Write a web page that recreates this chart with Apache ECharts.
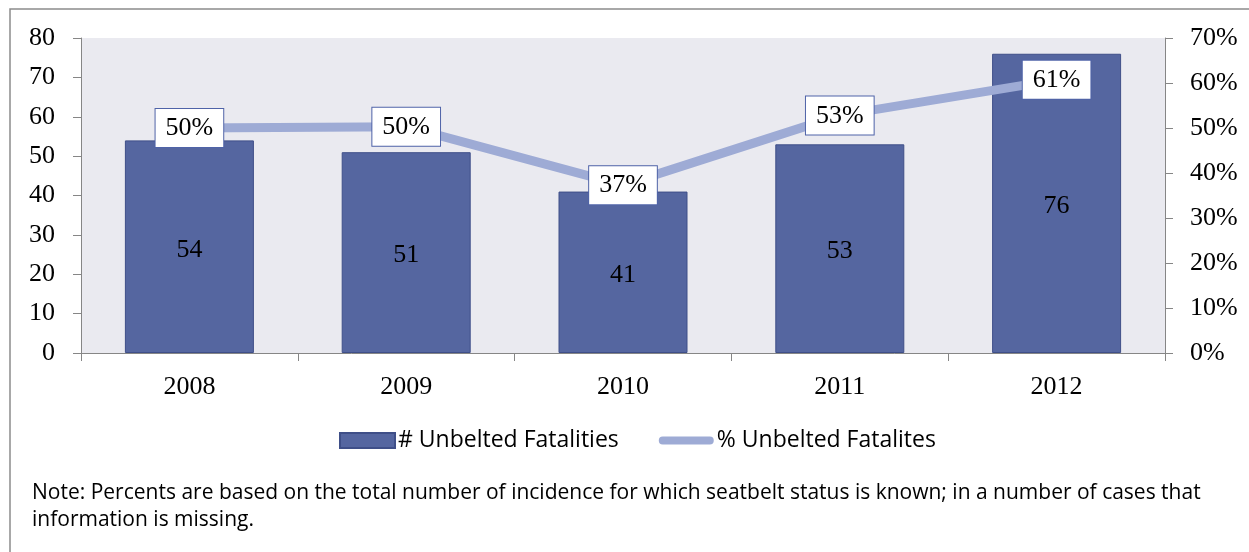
<!DOCTYPE html>
<html lang="en">
<head>
    <meta charset="UTF-8">
    <title>Unbelted Fatalities</title>
    <script src="https://cdn.jsdelivr.net/npm/echarts@6/dist/echarts.min.js"></script>
    <style>
        html, body { margin: 0; padding: 0; background: #fff; }
        #main { width: 1249px; height: 552px; }
    </style>
</head>
<body>
<div id="main"></div>
<script type="text/javascript">
// data
var years = ['2008', '2009', '2010', '2011', '2012'];
var unbeltedCount = [54, 51, 41, 53, 76];
var unbeltedPct = [0.50, 0.503, 0.373, 0.528, 0.607];
var pctLabels = ['50%', '50%', '37%', '53%', '61%'];

var serif = '"Liberation Serif", "DejaVu Serif", serif';
var sans = '"Open Sans", "Noto Sans", sans-serif';

// thick rounded line for the legend, with empty points to keep the box full height
var lineIcon = 'path://M0,0 L0.01,0 Z M4,3.5 L52,3.5 A4,4 0 0 1 52,11.5 L4,11.5 A4,4 0 0 1 4,3.5 Z M0,15 L0.01,15 Z';

var myChart = echarts.init(document.getElementById('main'));
var option = {
    animation: false,
    backgroundColor: '#ffffff',
    grid: {
        left: 81, right: 84, top: 38, bottom: 199,
        show: true, backgroundColor: '#eaeaf0', borderWidth: 0
    },
    legend: {
        top: 424,
        left: 334,
        itemGap: 40,
        itemWidth: 55,
        itemHeight: 15,
        textStyle: { fontFamily: sans, fontSize: 23, color: '#000', padding: [0, 0, 0, -2] },
        data: [
            { name: '# Unbelted Fatalities', icon: 'rect' },
            { name: '% Unbelted Fatalites', icon: lineIcon, itemStyle: { color: '#9eabd5' } }
        ]
    },
    xAxis: {
        type: 'category',
        data: years,
        axisLine: { lineStyle: { color: '#868686' } },
        axisTick: { show: true, alignWithLabel: false, length: 8, lineStyle: { color: '#868686' } },
        axisLabel: { fontFamily: serif, fontSize: 26, color: '#000', margin: 21 }
    },
    yAxis: [{
        type: 'value',
        min: 0, max: 80, interval: 10,
        splitLine: { show: false },
        axisLine: { show: true, lineStyle: { color: '#868686' } },
        axisTick: { show: true, length: 8, lineStyle: { color: '#868686' } },
        axisLabel: { fontFamily: serif, fontSize: 26, color: '#000', margin: 26 }
    }, {
        type: 'value',
        min: 0, max: 0.7, interval: 0.1,
        splitLine: { show: false },
        axisLine: { show: true, lineStyle: { color: '#868686' } },
        axisTick: { show: true, length: 8, lineStyle: { color: '#868686' } },
        axisLabel: {
            fontFamily: serif, fontSize: 26, color: '#000', margin: 25,
            formatter: function (v) { return Math.round(v * 100) + '%'; }
        }
    }],
    series: [{
        name: '# Unbelted Fatalities',
        type: 'bar',
        data: unbeltedCount,
        barWidth: 129,
        itemStyle: { color: '#5566a0', borderColor: '#3f4f88', borderWidth: 1 },
        label: {
            show: true, position: 'inside', offset: [0, 3],
            fontFamily: serif, fontSize: 26, color: '#000'
        }
    }, {
        name: '% Unbelted Fatalites',
        type: 'line',
        yAxisIndex: 1,
        data: unbeltedPct,
        symbol: 'circle',
        symbolSize: 2,
        showSymbol: true,
        lineStyle: { color: '#9eabd5', width: 9 },
        itemStyle: { color: '#9eabd5' },
        label: {
            show: true, position: 'top', distance: 0, offset: [0, 20],
            formatter: function (p) { return pctLabels[p.dataIndex]; },
            fontFamily: serif, fontSize: 26, lineHeight: 29, color: '#000',
            backgroundColor: '#ffffff',
            borderColor: '#4f63a8', borderWidth: 1,
            padding: [5, 10, 4, 10]
        },
        z: 3
    }],
    graphic: [{
        type: 'rect',
        shape: { x: 10, y: 9, width: 1260, height: 580 },
        style: { fill: 'none', stroke: '#8c8c8c', lineWidth: 1.5 },
        silent: true
    }, {
        type: 'text',
        left: 32, top: 480,
        style: {
            text: 'Note: Percents are based on the total number of incidence for which seatbelt status is known; in a number of cases that\ninformation is missing.',
            font: '21px ' + sans,
            lineHeight: 27,
            fill: '#000'
        }
    }]
};
myChart.setOption(option);
</script>
</body>
</html>
